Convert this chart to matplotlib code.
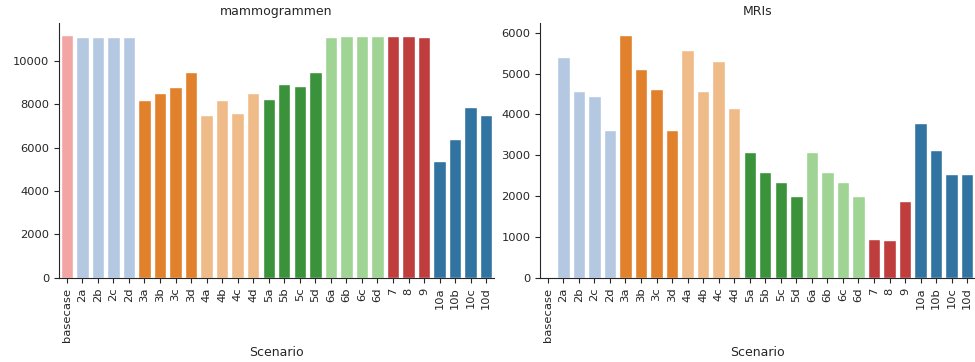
import matplotlib
matplotlib.use("Agg")
import matplotlib.pyplot as plt
import seaborn as sns

scenarios = ["basecase", "2a", "2b", "2c", "2d", "3a", "3b", "3c", "3d",
             "4a", "4b", "4c", "4d", "5a", "5b", "5c", "5d",
             "6a", "6b", "6c", "6d", "7", "8", "9",
             "10a", "10b", "10c", "10d"]

mammogrammen = [11200, 11100, 11100, 11100, 11100, 8210, 8550, 8800, 9480,
                7490, 8200, 7590, 8550, 8230, 8940, 8830, 9510,
                11100, 11140, 11140, 11140, 11170, 11170, 11130,
                5370, 6400, 7890, 7530]

mris = [0, 5400, 4560, 4460, 3620, 5940, 5100, 4610, 3620,
        5570, 4580, 5300, 4160, 3090, 2590, 2340, 2000,
        3070, 2590, 2340, 2000, 950, 930, 1870,
        3780, 3130, 2550, 2550]

# scenario group -> tab20 index
group_colour = {"basecase": 7, "2": 1, "3": 2, "4": 3, "5": 4, "6": 5,
                "7": 6, "8": 6, "9": 6, "10": 0}


def colour_for(name):
    if name == "basecase":
        return group_colour[name]
    key = name.rstrip("abcd")
    return group_colour[key]


sns.set_style("ticks")
tab20 = sns.color_palette("tab20", 20)
palette = [tab20[colour_for(s)] for s in scenarios]

fig = plt.figure(figsize=(9.75, 3.62), dpi=100)
ax1 = fig.add_axes([59 / 975, 84.3 / 362, 435 / 975, 254.7 / 362])
ax2 = fig.add_axes([540 / 975, 84.3 / 362, 435 / 975, 254.7 / 362])

for ax, values, title in [(ax1, mammogrammen, "mammogrammen"), (ax2, mris, "MRIs")]:
    sns.barplot(x=scenarios, y=values, hue=scenarios, palette=palette, legend=False,
                edgecolor="white", linewidth=1, ax=ax)
    ax.set_title(title, fontsize=9)
    ax.set_xlabel("Scenario", fontsize=9, labelpad=3)
    ax.tick_params(axis="x", labelrotation=90, labelsize=8.25)
    ax.tick_params(axis="y", labelsize=8.25)
    sns.despine(ax=ax)

fig.savefig("out.png", dpi=100)
